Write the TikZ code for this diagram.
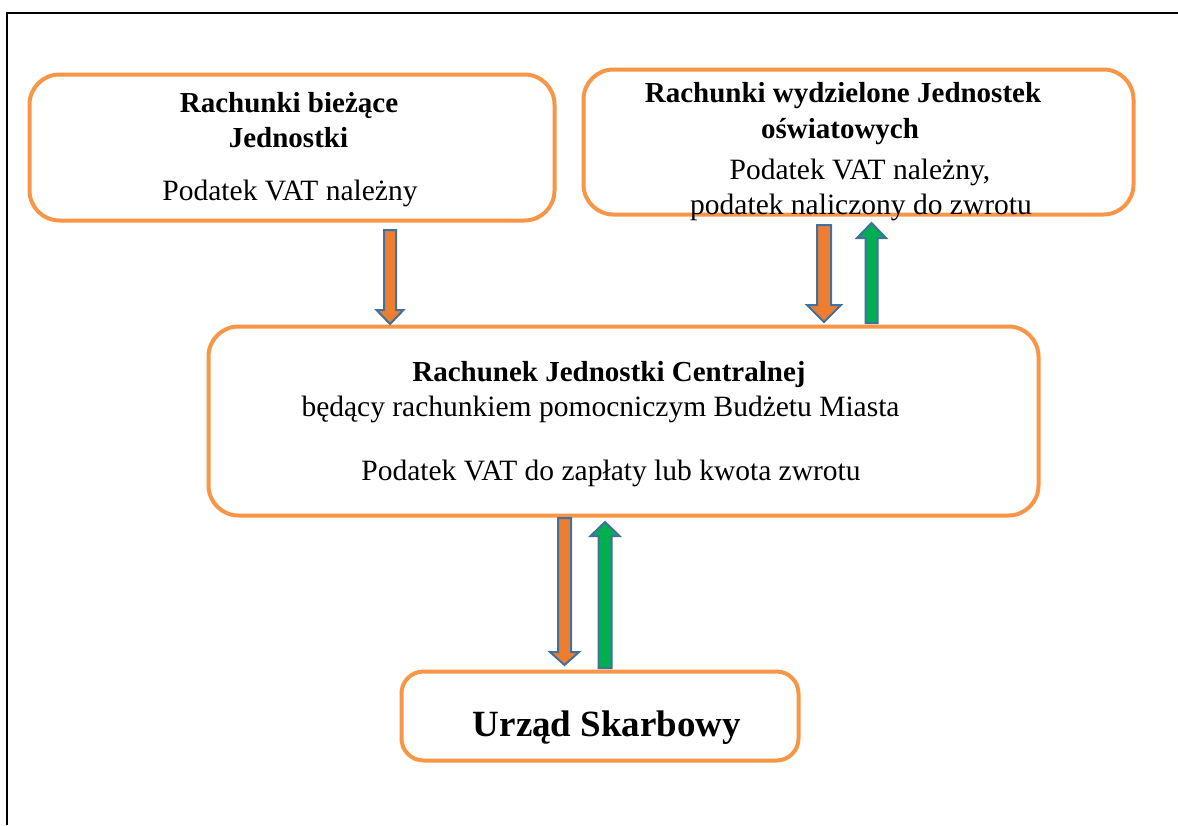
\documentclass[tikz,border=0pt]{standalone}
\usepackage{fontspec}
\setmainfont{Liberation Serif}
\definecolor{boxorange}{HTML}{F79646}
\definecolor{arrorange}{HTML}{ED7D31}
\definecolor{arrgreen}{HTML}{00B050}
\definecolor{arrborder}{HTML}{41719C}
\newcommand{\barrow}[7]{%
  \draw[arrline, fill=#7] (#1-#4/2,#2) -- (#1+#4/2,#2) -- (#1+#4/2,#6) -- (#1+#5/2,#6) -- (#1,#3) -- (#1-#5/2,#6) -- (#1-#4/2,#6) -- cycle;}
\begin{document}
\begin{tikzpicture}[x=1pt,y=-1pt,
  box/.style={draw=boxorange, line width=4pt, rounded corners=30pt, fill=white},
  txt/.style={anchor=base, inner sep=0pt, font=\fontsize{29.5}{35}\selectfont},
  btxt/.style={txt, font=\fontsize{29}{35}\selectfont\bfseries},
  arrline/.style={draw=arrborder, line width=2pt, line join=miter},
  frame/.style={draw=black, line width=1.5pt}]
\useasboundingbox (0,0) rectangle (1178,825);
\fill[white] (0,0) rectangle (1178,825);
\coordinate (fbl) at (7,825);
\coordinate (ftl) at (7,13);
\coordinate (ftr) at (1178,13);
\draw[frame] (fbl) -- (ftl) -- (ftr);
% boxes
\node[box, minimum width=525pt, minimum height=146pt] (b1) at (292,147.5) {};
\node[box, minimum width=550pt, minimum height=145pt] (b2) at (858.5,142) {};
\node[box, minimum width=830pt, minimum height=189pt] (b3) at (623.5,421) {};
\node[box, rounded corners=22pt, minimum width=397pt, minimum height=89pt] (b4) at (600,716) {};
% texts
\node[btxt] (t1a) at (289,112) {Rachunki bieżące};
\node[btxt] (t1b) at (288.5,147) {Jednostki};
\node[txt] (t1c) at (290,200) {Podatek VAT należny};
\node[btxt] (t2a) at (843,102) {Rachunki wydzielone Jednostek};
\node[btxt] (t2b) at (840,138) {oświatowych};
\node[txt] (t2c) at (860,179) {Podatek VAT należny,};
\node[txt] (t2d) at (861,214) {podatek naliczony do zwrotu};
\node[btxt] (t3a) at (609,381) {Rachunek Jednostki Centralnej};
\node[txt] (t3b) at (600.5,416) {będący rachunkiem pomocniczym Budżetu Miasta};
\node[txt] (t3c) at (611,480) {Podatek VAT do zapłaty lub kwota zwrotu};
\node[btxt, font=\fontsize{37}{44}\selectfont\bfseries] (t4) at (607,736) {Urząd Skarbowy};
% block arrows
\barrow{390}{230}{324}{12}{27}{310}{arrorange}
\barrow{824}{225}{322}{14}{34}{305}{arrorange}
\barrow{871.5}{323}{223}{12}{29}{238}{arrgreen}
\barrow{564.5}{518}{665}{13}{29}{652}{arrorange}
\barrow{605}{668}{522}{13}{29}{536}{arrgreen}
\end{tikzpicture}
\end{document}
